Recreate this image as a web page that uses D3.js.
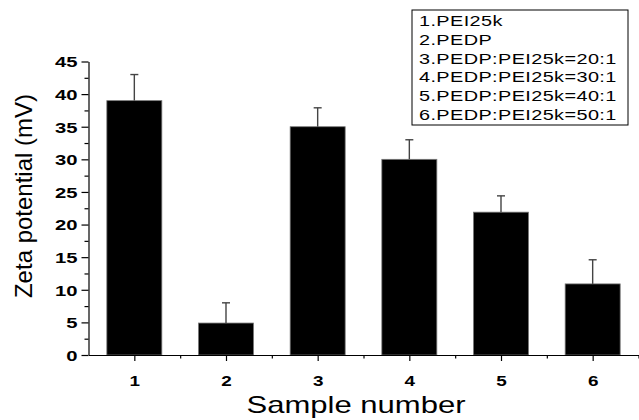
<!DOCTYPE html>
<html>

<head>
    <meta charset="UTF-8">
    <title>Zeta potential</title>
    <script src="https://d3js.org/d3.v7.min.js"></script>
    <style>
        body { margin: 0; background: #fff; }
        svg text { font-family: "Liberation Sans", Arial, sans-serif; }
    </style>
</head>

<body>
    <div id="chart"></div>
    <script type="text/javascript">
        const width = 639;
        const height = 420;

        // data
        const samples = [1, 2, 3, 4, 5, 6];
        const zeta = [39, 4.9, 35, 30, 21.9, 10.9];
        const zetaErr = [4, 3.1, 2.9, 3, 2.5, 3.7];
        const yTicks = [0, 5, 10, 15, 20, 25, 30, 35, 40, 45];
        const legendLabels = [
            "1.PEI25k",
            "2.PEDP",
            "3.PEDP:PEI25k=20:1",
            "4.PEDP:PEI25k=30:1",
            "5.PEDP:PEI25k=40:1",
            "6.PEDP:PEI25k=50:1"
        ];

        const stretch = 1.35; // the figure is widened horizontally

        const svg = d3.select("#chart")
            .append("svg")
            .attr("width", width)
            .attr("height", height);

        const x = d3.scaleLinear().domain([0.5, 6.5]).range([88.5, 638.5]);
        const y = d3.scaleLinear().domain([0, 45]).range([355, 61.5]);
        const barW = (x(2) - x(1)) * 0.6;

        // bars
        svg.selectAll("rect.bar")
            .data(samples)
            .enter()
            .append("rect")
            .attr("class", "bar")
            .attr("x", d => x(d) - barW / 2)
            .attr("y", (d, i) => y(zeta[i]))
            .attr("width", barW)
            .attr("height", (d, i) => y(0) - y(zeta[i]))
            .attr("fill", "#000")
            .attr("stroke", "#777")
            .attr("stroke-width", 0.8);

        // error bars (upper only)
        const err = svg.selectAll("g.err")
            .data(samples)
            .enter()
            .append("g")
            .attr("class", "err")
            .attr("stroke", "#444")
            .attr("stroke-width", 1.4);
        err.append("line")
            .attr("x1", d => x(d))
            .attr("x2", d => x(d))
            .attr("y1", (d, i) => y(zeta[i]))
            .attr("y2", (d, i) => y(zeta[i] + zetaErr[i]));
        err.append("line")
            .attr("x1", d => x(d) - 4)
            .attr("x2", d => x(d) + 4)
            .attr("y1", (d, i) => y(zeta[i] + zetaErr[i]))
            .attr("y2", (d, i) => y(zeta[i] + zetaErr[i]));

        // y axis
        const yAxis = svg.append("g")
            .attr("transform", "translate(" + x(0.5) + ",0)")
            .call(d3.axisLeft(y).tickValues(yTicks).tickSize(7).tickSizeOuter(0));
        svg.append("g")
            .attr("transform", "translate(" + x(0.5) + ",0)")
            .call(d3.axisLeft(y).tickValues(yTicks.slice(0, -1).map(v => v + 2.5)).tickSize(4).tickSizeOuter(0).tickFormat(""))
            .select(".domain").remove();
        yAxis.selectAll("text")
            .attr("x", -11 / stretch)
            .attr("dy", "0.36em")
            .attr("transform", "scale(" + stretch + ",1)")
            .style("font-size", "15px")
            .style("font-weight", "bold")
            .attr("fill", "#000");

        // x axis
        const xAxis = svg.append("g")
            .attr("transform", "translate(0," + y(0) + ")")
            .call(d3.axisBottom(x).tickValues(samples).tickFormat(d3.format("d")).tickSize(6).tickSizeOuter(0));
        svg.append("g")
            .attr("transform", "translate(0," + y(0) + ")")
            .call(d3.axisBottom(x).tickValues(samples.map(v => v + 0.5)).tickSize(3.5).tickSizeOuter(0).tickFormat(""))
            .select(".domain").remove();
        xAxis.selectAll(".tick text")
            .attr("y", 0)
            .attr("dy", 0)
            .attr("transform", "translate(0,31) scale(" + stretch + ",1)")
            .style("font-size", "14px")
            .style("font-weight", "bold")
            .attr("fill", "#000");
        svg.selectAll(".domain, .tick line").attr("stroke", "#000").attr("stroke-width", 1.2);

        // axis titles
        svg.append("text")
            .attr("transform", "translate(356,413) scale(" + stretch + ",1)")
            .attr("text-anchor", "middle")
            .style("font-size", "23px")
            .text("Sample number");
        svg.append("text")
            .attr("transform", "translate(32,196) rotate(-90)")
            .attr("text-anchor", "middle")
            .style("font-size", "24px")
            .text("Zeta potential (mV)");

        // legend box
        const legend = svg.append("g").attr("transform", "translate(412,10)");
        legend.append("rect")
            .attr("x", 0)
            .attr("y", 0)
            .attr("width", 216)
            .attr("height", 115)
            .attr("fill", "#fff")
            .attr("stroke", "#000")
            .attr("stroke-width", 1);
        legend.selectAll("text")
            .data(legendLabels)
            .enter()
            .append("text")
            .attr("transform", (d, i) => "translate(7," + (16 + i * 18.8) + ") scale(1.37,1)")
            .style("font-size", "14.5px")
            .style("letter-spacing", "0.3px")
            .text(d => d);
    </script>
</body>

</html>
